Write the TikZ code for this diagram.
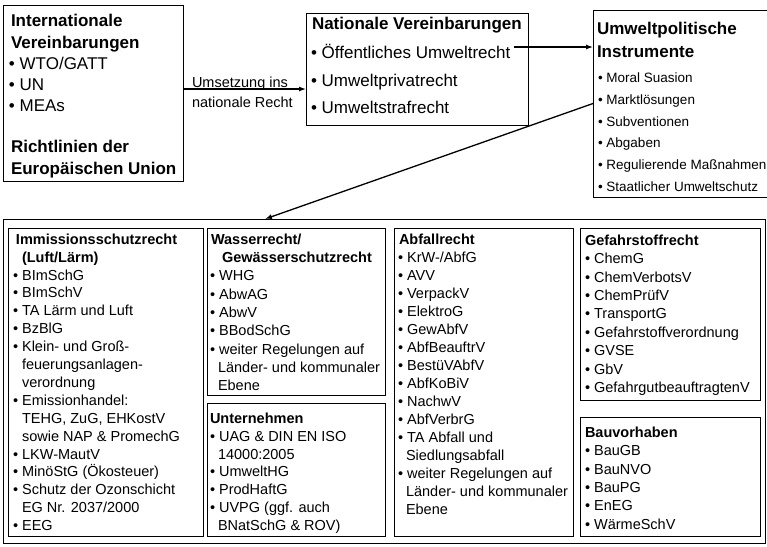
\documentclass[tikz,border=0pt]{standalone}
\usepackage{fontspec}
\setmainfont{Liberation Sans}
\usetikzlibrary{arrows.meta,fit}
\newcommand\mytxt[5]{\node[#2] (#1) at (#3,#4) {#5};}
\begin{document}
\begin{tikzpicture}[x=1pt,y=-1pt,
 box/.style={draw, line width=0.9pt, inner sep=0pt, outer sep=0pt},
 tbase/.style={anchor=base west, inner sep=0pt, outer sep=0pt},
 hb/.style={tbase, font=\fontsize{17}{20}\selectfont\bfseries, yshift=-6.1pt},
 hr/.style={tbase, font=\fontsize{17}{20}\selectfont, yshift=-6.1pt},
 cr/.style={tbase, font=\fontsize{13.5}{16}\selectfont, yshift=-4.85pt},
 sb/.style={tbase, font=\fontsize{14.5}{17}\selectfont\bfseries, yshift=-5.2pt},
 sr/.style={tbase, font=\fontsize{14.5}{17}\selectfont, yshift=-5.2pt},
 lr/.style={tbase, font=\fontsize{14.5}{17}\selectfont},
 arr/.style={-{Latex[length=7pt,width=5pt]}, line width=1.3pt},
]
\clip (0,0) rectangle (767,546);

% ---------- top row ----------
\node[box, fit={(3,5)(183,181)}] (A) {};
\mytxt{a1}{hb}{11}{20}{Internationale}
\mytxt{a2}{hb}{11}{42}{Vereinbarungen}
\mytxt{a3}{hr}{9}{63}{• WTO/GATT}
\mytxt{a4}{hr}{9}{84}{• UN}
\mytxt{a5}{hr}{9}{105}{• MEAs}
\mytxt{a6}{hb}{11}{146}{Richtlinien der}
\mytxt{a7}{hb}{11}{168}{Europäischen Union}

\node[box, fit={(306,13)(528,125)}] (B) {};
\mytxt{b1}{hb}{312}{23}{Nationale Vereinbarungen}
\mytxt{b2}{hr}{311}{52}{• Öffentliches Umweltrecht}
\mytxt{b3}{hr}{311}{80}{• Umweltprivatrecht}
\mytxt{b4}{hr}{311}{107}{• Umweltstrafrecht}

\node[box, fit={(593,10)(800,197)}] (C) {};
\mytxt{c1}{hb}{597}{28}{Umweltpolitische}
\mytxt{c2}{hb}{597}{51}{Instrumente}
\mytxt{c3}{cr}{598}{78}{• Moral Suasion}
\mytxt{c4}{cr}{598}{100}{• Marktlösungen}
\mytxt{c5}{cr}{598}{122}{• Subventionen}
\mytxt{c6}{cr}{598}{143}{• Abgaben}
\mytxt{c7}{cr}{598}{165}{• Regulierende Maßnahmen}
\mytxt{c8}{cr}{598}{187}{• Staatlicher Umweltschutz}

% ---------- connectors ----------
\coordinate (m1) at (0,89);
\draw[arr] (m1 -| A.east) -- (m1 -| B.west);
\mytxt{l1}{lr}{192}{87}{Umsetzung ins}
\mytxt{l2}{lr}{192}{107}{nationale Recht}

\coordinate (m2) at (514,47);
\draw[arr] (m2) -- (m2 -| C.west);

% ---------- bottom frame ----------
\node[box, fit={(3,219)(765,543)}] (D) {};
\coordinate (m3) at (265,0);
\draw[arr] (C.west) -- (m3 |- D.north);

% Immissionsschutzrecht
\node[box, fit={(8,228)(203,536)}] (E1) {};
\mytxt{e1a}{sb}{16}{239}{Immissionsschutzrecht}
\mytxt{e1b}{sb}{22}{256.9}{(Luft/Lärm)}
\mytxt{e1c}{sr}{13}{274.8}{• BImSchG}
\mytxt{e1d}{sr}{13}{292.7}{• BImSchV}
\mytxt{e1e}{sr}{13}{310.6}{• TA Lärm und Luft}
\mytxt{e1f}{sr}{13}{328.5}{• BzBlG}
\mytxt{e1g}{sr}{13}{346.4}{• Klein- und Groß-}
\mytxt{e1h}{sr}{22}{364.3}{feuerungsanlagen-}
\mytxt{e1i}{sr}{22}{382.2}{verordnung}
\mytxt{e1j}{sr}{13}{400.1}{• Emissionhandel:}
\mytxt{e1k}{sr}{22}{418.0}{TEHG, ZuG, EHKostV}
\mytxt{e1l}{sr}{22}{435.9}{sowie NAP \& PromechG}
\mytxt{e1m}{sr}{13}{453.8}{• LKW-MautV}
\mytxt{e1n}{sr}{13}{471.7}{• MinöStG (Ökosteuer)}
\mytxt{e1o}{sr}{13}{489.6}{• Schutz der Ozonschicht}
\mytxt{e1p}{sr}{22}{507.5}{EG Nr. 2037/2000}
\mytxt{e1q}{sr}{13}{525.4}{• EEG}

% Wasserrecht
\node[box, fit={(207,228)(385,395)}] (E2) {};
\mytxt{e2a}{sb}{211}{239}{Wasserrecht/}
\mytxt{e2b}{sb}{222}{257.3}{Gewässerschutzrecht}
\mytxt{e2c}{sr}{210}{275.6}{• WHG}
\mytxt{e2d}{sr}{210}{293.9}{• AbwAG}
\mytxt{e2e}{sr}{210}{312.2}{• AbwV}
\mytxt{e2f}{sr}{210}{330.5}{• BBodSchG}
\mytxt{e2g}{sr}{210}{348.8}{• weiter Regelungen auf}
\mytxt{e2h}{sr}{218}{367.1}{Länder- und kommunaler}
\mytxt{e2i}{sr}{218}{385.4}{Ebene}

% Unternehmen
\node[box, fit={(207,403)(385,536)}] (E3) {};
\mytxt{e3a}{sb}{210}{418}{Unternehmen}
\mytxt{e3b}{sr}{210}{435.9}{• UAG \& DIN EN ISO}
\mytxt{e3c}{sr}{218}{453.8}{14000:2005}
\mytxt{e3d}{sr}{210}{471.7}{• UmweltHG}
\mytxt{e3e}{sr}{210}{489.6}{• ProdHaftG}
\mytxt{e3f}{sr}{210}{507.5}{• UVPG (ggf. auch}
\mytxt{e3g}{sr}{218}{525.4}{BNatSchG \& ROV)}

% Abfallrecht
\node[box, fit={(394,228)(573,536)}] (E4) {};
\mytxt{e4a}{sb}{399}{239}{Abfallrecht}
\mytxt{e4b}{sr}{398}{257}{• KrW-/AbfG}
\mytxt{e4c}{sr}{398}{275}{• AVV}
\mytxt{e4d}{sr}{398}{293}{• VerpackV}
\mytxt{e4e}{sr}{398}{311}{• ElektroG}
\mytxt{e4f}{sr}{398}{329}{• GewAbfV}
\mytxt{e4g}{sr}{398}{347}{• AbfBeauftrV}
\mytxt{e4h}{sr}{398}{365}{• BestüVAbfV}
\mytxt{e4i}{sr}{398}{383}{• AbfKoBiV}
\mytxt{e4j}{sr}{398}{401}{• NachwV}
\mytxt{e4k}{sr}{398}{419}{• AbfVerbrG}
\mytxt{e4l}{sr}{398}{437}{• TA Abfall und}
\mytxt{e4m}{sr}{406}{455}{Siedlungsabfall}
\mytxt{e4n}{sr}{398}{473}{• weiter Regelungen auf}
\mytxt{e4o}{sr}{406}{491}{Länder- und kommunaler}
\mytxt{e4p}{sr}{406}{509}{Ebene}

% Gefahrstoffrecht
\node[box, fit={(580,228)(760,400)}] (E5) {};
\mytxt{e5a}{sb}{585}{240}{Gefahrstoffrecht}
\mytxt{e5b}{sr}{585}{258.4}{• ChemG}
\mytxt{e5c}{sr}{585}{276.8}{• ChemVerbotsV}
\mytxt{e5d}{sr}{585}{295.2}{• ChemPrüfV}
\mytxt{e5e}{sr}{585}{313.6}{• TransportG}
\mytxt{e5f}{sr}{585}{332.0}{• Gefahrstoffverordnung}
\mytxt{e5g}{sr}{585}{350.4}{• GVSE}
\mytxt{e5h}{sr}{585}{368.8}{• GbV}
\mytxt{e5i}{sr}{585}{387.2}{• GefahrgutbeauftragtenV}

% Bauvorhaben
\node[box, fit={(580,417)(760,536)}] (E6) {};
\mytxt{e6a}{sb}{585}{432}{Bauvorhaben}
\mytxt{e6b}{sr}{585}{450.4}{• BauGB}
\mytxt{e6c}{sr}{585}{468.8}{• BauNVO}
\mytxt{e6d}{sr}{585}{487.2}{• BauPG}
\mytxt{e6e}{sr}{585}{505.6}{• EnEG}
\mytxt{e6f}{sr}{585}{524.0}{• WärmeSchV}
\end{tikzpicture}
\end{document}
